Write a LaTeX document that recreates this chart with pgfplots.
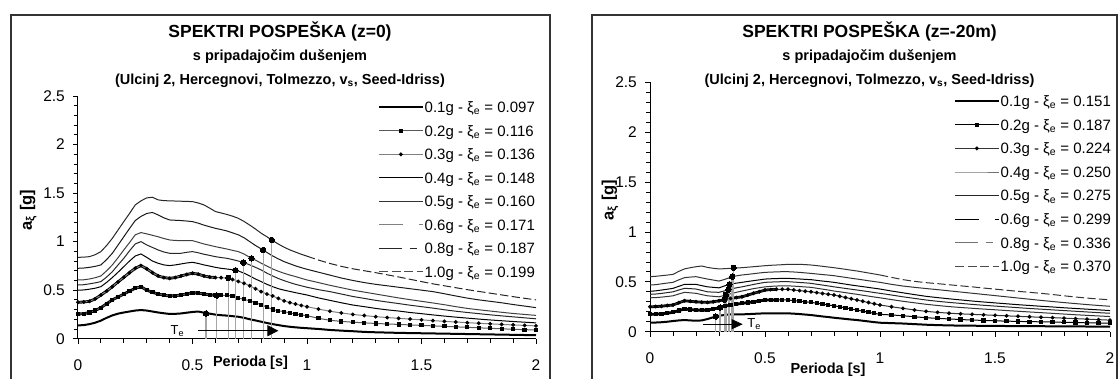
\documentclass[border=0pt]{standalone}
\usepackage{fontspec}
\setmainfont{Liberation Sans}
\usepackage{pgfplots}
\pgfplotsset{compat=1.18}
\usepackage{pgfplotstable}
\usetikzlibrary{arrows.meta}

% Spectral accelerations a_xi [g] vs. period T [s], surface (z=0)
\pgfplotstableread{
T     a01   a02   a03   a04   a05   a06   a08   a10
0     0.137 0.254 0.375 0.500 0.553 0.605 0.725 0.838
0.025 0.140 0.258 0.378 0.502 0.556 0.607 0.728 0.840
0.05  0.150 0.270 0.385 0.510 0.565 0.615 0.735 0.845
0.075 0.165 0.290 0.410 0.520 0.575 0.628 0.745 0.865
0.1   0.186 0.320 0.450 0.536 0.588 0.646 0.760 0.897
0.125 0.215 0.360 0.490 0.580 0.635 0.700 0.815 0.960
0.15  0.240 0.400 0.536 0.630 0.690 0.760 0.880 1.034
0.175 0.258 0.430 0.585 0.685 0.760 0.835 0.965 1.120
0.2   0.270 0.460 0.632 0.742 0.828 0.914 1.050 1.206
0.225 0.280 0.490 0.680 0.800 0.905 0.990 1.135 1.290
0.25  0.290 0.520 0.725 0.852 0.976 1.070 1.217 1.378
0.275 0.295 0.535 0.753 0.873 1.000 1.093 1.260 1.420
0.3   0.290 0.500 0.720 0.838 0.966 1.080 1.290 1.450
0.325 0.280 0.478 0.680 0.800 0.940 1.065 1.300 1.457
0.35  0.270 0.460 0.646 0.777 0.914 1.050 1.275 1.430
0.375 0.262 0.448 0.630 0.760 0.893 1.032 1.245 1.422
0.4   0.255 0.440 0.622 0.753 0.880 1.017 1.223 1.420
0.425 0.256 0.443 0.630 0.760 0.878 1.012 1.220 1.418
0.45  0.260 0.450 0.646 0.770 0.880 1.010 1.217 1.416
0.475 0.268 0.462 0.662 0.780 0.890 1.010 1.212 1.414
0.5   0.275 0.474 0.674 0.787 0.897 1.010 1.206 1.412
0.525 0.280 0.470 0.665 0.775 0.885 0.993 1.190 1.398
0.55  0.268 0.460 0.646 0.760 0.870 0.976 1.170 1.378
0.575 0.258 0.452 0.635 0.748 0.858 0.962 1.153 1.345
0.6   0.248 0.447 0.630 0.735 0.845 0.948 1.137 1.310
0.625 0.242 0.447 0.628 0.725 0.836 0.936 1.124 1.295
0.65  0.238 0.447 0.625 0.718 0.828 0.924 1.110 1.280
0.675 0.232 0.440 0.610 0.710 0.815 0.910 1.090 1.262
0.7   0.226 0.420 0.590 0.698 0.800 0.897 1.070 1.240
0.725 0.215 0.405 0.570 0.675 0.784 0.872 1.040 1.208
0.75  0.200 0.390 0.546 0.646 0.760 0.838 1.000 1.170
0.775 0.188 0.370 0.515 0.615 0.735 0.810 0.960 1.130
0.8   0.175 0.350 0.485 0.588 0.708 0.777 0.925 1.086
0.825 0.162 0.325 0.460 0.560 0.675 0.748 0.888 1.050
0.85  0.150 0.300 0.440 0.536 0.646 0.718 0.852 1.010
0.875 0.140 0.288 0.415 0.515 0.620 0.695 0.822 0.975
0.9   0.130 0.278 0.390 0.500 0.598 0.674 0.794 0.942
0.925 0.123 0.265 0.372 0.487 0.578 0.656 0.772 0.915
0.95  0.117 0.254 0.357 0.474 0.560 0.640 0.750 0.892
0.975 0.112 0.245 0.343 0.462 0.545 0.622 0.732 0.870
1.0   0.108 0.237 0.330 0.450 0.530 0.605 0.715 0.850
1.05  0.100 0.210 0.305 0.420 0.505 0.578 0.685 0.810
1.1   0.090 0.190 0.283 0.395 0.485 0.550 0.655 0.775
1.15  0.083 0.178 0.265 0.370 0.460 0.525 0.625 0.745
1.2   0.077 0.170 0.250 0.347 0.435 0.500 0.600 0.720
1.25  0.070 0.163 0.238 0.330 0.415 0.480 0.578 0.700
1.3   0.066 0.157 0.227 0.312 0.395 0.460 0.560 0.680
1.35  0.063 0.152 0.218 0.297 0.378 0.440 0.545 0.658
1.4   0.060 0.147 0.210 0.285 0.362 0.420 0.530 0.636
1.45  0.058 0.142 0.202 0.270 0.345 0.402 0.515 0.612
1.5   0.056 0.137 0.194 0.258 0.330 0.385 0.500 0.588
1.55  0.054 0.132 0.186 0.245 0.315 0.368 0.485 0.565
1.6   0.052 0.127 0.179 0.233 0.298 0.350 0.463 0.545
1.65  0.050 0.122 0.172 0.222 0.283 0.330 0.440 0.525
1.7   0.048 0.117 0.165 0.212 0.270 0.312 0.418 0.505
1.75  0.046 0.112 0.159 0.202 0.258 0.298 0.400 0.487
1.8   0.044 0.107 0.153 0.193 0.246 0.285 0.385 0.469
1.85  0.042 0.102 0.147 0.185 0.235 0.272 0.370 0.451
1.9   0.040 0.097 0.142 0.177 0.225 0.260 0.352 0.433
1.95  0.038 0.093 0.137 0.170 0.215 0.250 0.336 0.416
2.0   0.036 0.090 0.132 0.163 0.205 0.240 0.320 0.400
}\spektarA

% Spectral accelerations at depth z=-20m
\pgfplotstableread{
T     a01   a02   a03   a04   a05   a06   a08   a10
0     0.090 0.174 0.250 0.340 0.375 0.405 0.468 0.552
0.025 0.092 0.176 0.252 0.342 0.378 0.410 0.472 0.556
0.05  0.095 0.180 0.256 0.347 0.384 0.418 0.480 0.562
0.075 0.100 0.186 0.262 0.353 0.392 0.426 0.488 0.568
0.1   0.107 0.194 0.268 0.360 0.400 0.435 0.495 0.575
0.125 0.113 0.212 0.290 0.378 0.418 0.455 0.520 0.605
0.15  0.117 0.227 0.310 0.395 0.435 0.475 0.542 0.630
0.175 0.113 0.222 0.305 0.390 0.432 0.476 0.548 0.642
0.2   0.110 0.217 0.300 0.385 0.428 0.475 0.552 0.652
0.225 0.113 0.216 0.296 0.372 0.414 0.462 0.540 0.659
0.25  0.127 0.217 0.294 0.360 0.400 0.450 0.528 0.645
0.275 0.145 0.227 0.300 0.355 0.397 0.445 0.518 0.636
0.3   0.160 0.240 0.310 0.350 0.395 0.440 0.508 0.630
0.325 0.168 0.255 0.322 0.365 0.410 0.460 0.525 0.632
0.35  0.174 0.268 0.334 0.380 0.428 0.478 0.545 0.636
0.375 0.175 0.276 0.342 0.395 0.440 0.487 0.560 0.640
0.4   0.174 0.284 0.350 0.408 0.450 0.495 0.569 0.642
0.425 0.176 0.292 0.367 0.420 0.462 0.504 0.575 0.647
0.45  0.179 0.300 0.385 0.432 0.474 0.512 0.582 0.652
0.475 0.182 0.309 0.400 0.441 0.485 0.520 0.589 0.657
0.5   0.184 0.318 0.418 0.450 0.495 0.528 0.595 0.662
0.525 0.185 0.319 0.422 0.455 0.498 0.531 0.598 0.666
0.55  0.185 0.318 0.425 0.458 0.500 0.533 0.600 0.669
0.575 0.184 0.318 0.425 0.460 0.502 0.535 0.602 0.672
0.6   0.184 0.318 0.425 0.460 0.502 0.535 0.602 0.676
0.625 0.181 0.312 0.418 0.457 0.498 0.532 0.599 0.676
0.65  0.177 0.306 0.412 0.453 0.494 0.529 0.595 0.676
0.675 0.172 0.300 0.406 0.449 0.490 0.525 0.590 0.673
0.7   0.167 0.294 0.400 0.445 0.485 0.522 0.585 0.669
0.725 0.160 0.286 0.392 0.436 0.476 0.515 0.579 0.663
0.75  0.153 0.277 0.384 0.427 0.468 0.508 0.573 0.656
0.775 0.147 0.268 0.376 0.418 0.459 0.502 0.568 0.649
0.8   0.140 0.260 0.368 0.408 0.450 0.495 0.562 0.642
0.825 0.134 0.250 0.356 0.400 0.442 0.486 0.553 0.634
0.85  0.128 0.239 0.343 0.392 0.434 0.477 0.545 0.626
0.875 0.122 0.228 0.330 0.383 0.426 0.468 0.536 0.617
0.9   0.117 0.217 0.318 0.375 0.418 0.460 0.528 0.609
0.925 0.110 0.206 0.305 0.366 0.410 0.452 0.520 0.599
0.95  0.103 0.195 0.292 0.357 0.402 0.444 0.511 0.589
0.975 0.096 0.184 0.280 0.348 0.393 0.436 0.503 0.579
1.0   0.090 0.174 0.268 0.340 0.385 0.428 0.495 0.569
1.05  0.086 0.168 0.250 0.322 0.368 0.408 0.475 0.545
1.1   0.082 0.160 0.234 0.305 0.350 0.390 0.458 0.522
1.15  0.076 0.150 0.218 0.290 0.334 0.372 0.445 0.505
1.2   0.070 0.140 0.204 0.275 0.318 0.355 0.433 0.492
1.25  0.066 0.134 0.194 0.263 0.305 0.342 0.422 0.482
1.3   0.063 0.128 0.186 0.252 0.294 0.330 0.410 0.471
1.35  0.061 0.122 0.179 0.243 0.284 0.319 0.398 0.460
1.4   0.060 0.117 0.174 0.235 0.274 0.308 0.386 0.450
1.45  0.059 0.113 0.169 0.227 0.265 0.298 0.374 0.438
1.5   0.058 0.109 0.164 0.220 0.257 0.289 0.362 0.427
1.55  0.057 0.106 0.159 0.212 0.249 0.280 0.350 0.416
1.6   0.056 0.103 0.154 0.205 0.241 0.271 0.338 0.405
1.65  0.056 0.101 0.149 0.198 0.233 0.263 0.326 0.395
1.7   0.055 0.099 0.145 0.191 0.226 0.255 0.314 0.385
1.75  0.054 0.097 0.141 0.184 0.219 0.248 0.303 0.373
1.8   0.054 0.094 0.136 0.177 0.212 0.240 0.292 0.360
1.85  0.053 0.092 0.131 0.170 0.205 0.233 0.282 0.348
1.9   0.052 0.089 0.126 0.164 0.198 0.226 0.272 0.337
1.95  0.051 0.087 0.121 0.158 0.191 0.219 0.263 0.328
2.0   0.050 0.085 0.116 0.152 0.185 0.212 0.255 0.320
}\spektarB

% Equivalent periods T_e with the spectral value there
\pgfplotstableread{
T     a
0.559 0.261
0.606 0.445
0.656 0.627
0.688 0.705
0.722 0.784
0.758 0.828
0.809 0.914
0.846 1.017
}\teA
\pgfplotstableread{
T     a
0.286 0.152
0.305 0.243
0.323 0.322
0.330 0.370
0.341 0.422
0.346 0.476
0.357 0.552
0.364 0.641
}\teB

\newcommand{\legfont}{\fontsize{15}{18}\selectfont}

\pgfplotsset{
  spektar/.style={
    scale only axis,
    xmin=0, xmax=2, ymin=0, ymax=2.5,
    axis x line=bottom, axis y line=left,
    axis line style={-, black, line width=1pt},
    xtick={0,0.5,1,1.5,2}, ytick={0,0.5,1,1.5,2,2.5},
    minor x tick num=4, minor y tick num=4,
    tick align=outside,
    major tick length=5pt, minor tick length=4pt,
    every tick/.style={black, line width=0.8pt},
    tick label style={font=\fontsize{15.5}{15.5}\selectfont, inner sep=0pt},
    xticklabel style={anchor=base, yshift=-27pt},
    yticklabel style={anchor=east, xshift=-8pt},
    /pgf/number format/assume math mode=true,
    xlabel style={font=\bfseries\fontsize{14.5}{16}\selectfont, anchor=center},
    ylabel style={font=\bfseries\fontsize{16.5}{18}\selectfont, anchor=center},
    legend cell align=left,
    legend style={draw=none, fill=none, inner sep=0pt, outer sep=0pt,
      column sep=1pt, font=\legfont,
      nodes={inner sep=0pt, text height=11pt, text depth=3pt, font=\legfont}},
    legend image code/.code={%
      \draw[mark repeat=2, mark phase=2, #1]
        plot coordinates {(0pt,1.35pt) (21.85pt,1.35pt) (43.7pt,1.35pt)};},
  },
  band/.style={black, line width=2.8pt, forget plot},
  tenode/.style={ycomb, draw=black!35, line width=1.4pt, mark=*, mark size=2.7pt,
    mark options={draw=black, fill=black, line width=0pt}, forget plot},
  sq/.style={mark=square*, mark size=1.6pt, mark options={black, fill=black, solid}},
  dt/.style={mark=*, mark size=1.4pt, mark options={black, fill=black, solid}},
}

\newcommand{\xie}{ξ\textsubscript{e}}

\begin{document}
\begin{tikzpicture}
\path[use as bounding box] (0pt,0pt) rectangle (1119pt,379pt);

% chart frames
\draw[line width=2pt, black!80] (10.5pt,-5pt) -- (10.5pt,364pt) -- (550pt,364pt) -- (550pt,-5pt);
\draw[line width=2pt, black!80] (592pt,-5pt) -- (592pt,364pt) -- (1116.5pt,364pt) -- (1116.5pt,-5pt);

% titles
\begin{scope}[every node/.style={anchor=base}]
\node[font=\bfseries\fontsize{17.5}{20}\selectfont] at (280pt,341pt) {SPEKTRI POSPEŠKA (z=0)};
\node[font=\bfseries\fontsize{14.5}{17}\selectfont] at (280pt,318pt) {s pripadajočim dušenjem};
\node[font=\bfseries\fontsize{14.5}{17}\selectfont] at (280pt,294.5pt) {(Ulcinj 2, Hercegnovi, Tolmezzo, v\textsubscript{s}, Seed-Idriss)};
\node[font=\bfseries\fontsize{17.5}{20}\selectfont] at (869.5pt,341pt) {SPEKTRI POSPEŠKA (z=-20m)};
\node[font=\bfseries\fontsize{14.5}{17}\selectfont] at (869.5pt,318pt) {s pripadajočim dušenjem};
\node[font=\bfseries\fontsize{14.5}{17}\selectfont] at (869.5pt,294.5pt) {(Ulcinj 2, Hercegnovi, Tolmezzo, v\textsubscript{s}, Seed-Idriss)};
\end{scope}

% ---------- z = 0 ----------
\begin{axis}[spektar, width=458pt, height=242.7pt, at={(78pt,40.3pt)}, anchor=south west,
  xlabel={Perioda [s]}, ylabel={a\textsubscript{ξ} [g]},
  xlabel style={at={(axis description cs:0.3766,-0.1001)}},
  ylabel style={at={(axis description cs:-0.1085,0.530)}},
  legend style={at={(axis description cs:0.655,0.9767)}, anchor=north west, row sep=9.5pt}]
\addlegendimage{black, line width=2pt}
\addlegendentry{0.1g - \xie{} = 0.097}
\addlegendimage{black!65, line width=1pt, sq}
\addlegendentry{0.2g - \xie{} = 0.116}
\addlegendimage{black!50, line width=1pt, dt}
\addlegendentry{0.3g - \xie{} = 0.136}
\addlegendimage{black, line width=1pt}
\addlegendentry{0.4g - \xie{} = 0.148}
\addlegendimage{black!80, line width=1pt}
\addlegendentry{0.5g - \xie{} = 0.160}
\addlegendimage{black!50, line width=1pt, dash pattern=on 24pt off 16.4pt on 3.3pt off 20pt}
\addlegendentry{0.6g - \xie{} = 0.171}
\addlegendimage{black!85, line width=1pt, dash pattern=on 23.3pt off 7.7pt on 6.7pt off 20pt}
\addlegendentry{0.8g - \xie{} = 0.187}
\addlegendimage{black!70, line width=1pt, dash pattern=on 9pt off 3.6pt}
\addlegendentry{1.0g - \xie{} = 0.199}

\addplot[black, line width=2pt, forget plot] table[x=T, y=a01] {\spektarA};
\addplot[band, restrict x to domain=0:0.601] table[x=T, y=a02] {\spektarA};
\addplot[black!65, line width=1pt, sq, forget plot] table[x=T, y=a02] {\spektarA};
\addplot[band, restrict x to domain=0:0.601] table[x=T, y=a03] {\spektarA};
\addplot[black!50, line width=1pt, dt, forget plot] table[x=T, y=a03] {\spektarA};
\addplot[black, line width=1pt, forget plot] table[x=T, y=a04] {\spektarA};
\addplot[black!85, line width=1pt, forget plot] table[x=T, y=a05] {\spektarA};
\addplot[black!75, line width=1pt, forget plot] table[x=T, y=a06] {\spektarA};
\addplot[black!90, line width=1pt, forget plot] table[x=T, y=a08] {\spektarA};
\addplot[black!85, line width=1pt, forget plot, restrict x to domain=0:1.001] table[x=T, y=a10] {\spektarA};
\addplot[black!85, line width=1pt, forget plot, restrict x to domain=0.999:2, dash pattern=on 8.3pt off 3.3pt] table[x=T, y=a10] {\spektarA};

\addplot[tenode] table[x=T, y=a] {\teA};
\draw[black, line width=0.8pt, -{Triangle[length=11pt, width=11pt]}] (axis cs:0.525,0.082) -- (axis cs:0.875,0.082);
\node[font=\fontsize{13}{13}\selectfont] at (axis cs:0.434,0.078) {T\textsubscript{e}};
\end{axis}

% ---------- z = -20 m ----------
\begin{axis}[spektar, width=460pt, height=249.2pt, at={(650pt,47.3pt)}, anchor=south west,
  xlabel={Perioda [s]}, ylabel={a\textsubscript{ξ} [g]},
  xlabel style={at={(axis description cs:0.387,-0.1537)}},
  ylabel style={at={(axis description cs:-0.087,0.5285)}},
  legend style={at={(axis description cs:0.6609,0.9476)}, anchor=north west, row sep=9.6pt}]
\addlegendimage{black, line width=2pt}
\addlegendentry{0.1g - \xie{} = 0.151}
\addlegendimage{black, line width=1pt, sq}
\addlegendentry{0.2g - \xie{} = 0.187}
\addlegendimage{black!80, line width=1pt, dt}
\addlegendentry{0.3g - \xie{} = 0.224}
\addlegendimage{black!55, line width=1pt}
\addlegendentry{0.4g - \xie{} = 0.250}
\addlegendimage{black!85, line width=1pt}
\addlegendentry{0.5g - \xie{} = 0.275}
\addlegendimage{black, line width=1pt, dash pattern=on 24pt off 16.4pt on 3.3pt off 20pt}
\addlegendentry{0.6g - \xie{} = 0.299}
\addlegendimage{black!55, line width=1pt, dash pattern=on 23.3pt off 7.7pt on 6.7pt off 20pt}
\addlegendentry{0.8g - \xie{} = 0.336}
\addlegendimage{black!70, line width=1pt, dash pattern=on 9pt off 3.6pt}
\addlegendentry{1.0g - \xie{} = 0.370}

\addplot[black, line width=2pt, forget plot] table[x=T, y=a01] {\spektarB};
\addplot[band, restrict x to domain=0:0.551] table[x=T, y=a02] {\spektarB};
\addplot[black, line width=1pt, sq, forget plot] table[x=T, y=a02] {\spektarB};
\addplot[band, restrict x to domain=0:0.551] table[x=T, y=a03] {\spektarB};
\addplot[black!80, line width=1pt, dt, forget plot] table[x=T, y=a03] {\spektarB};
\addplot[black!80, line width=1pt, forget plot] table[x=T, y=a04] {\spektarB};
\addplot[black!85, line width=1pt, forget plot] table[x=T, y=a05] {\spektarB};
\addplot[black, line width=1pt, forget plot] table[x=T, y=a06] {\spektarB};
\addplot[black!80, line width=1pt, forget plot] table[x=T, y=a08] {\spektarB};
\addplot[black!80, line width=1pt, forget plot, restrict x to domain=0:1.001] table[x=T, y=a10] {\spektarB};
\addplot[black!80, line width=1pt, forget plot, restrict x to domain=0.999:2, dash pattern=on 8.3pt off 3.3pt] table[x=T, y=a10] {\spektarB};

\addplot[tenode] table[x=T, y=a] {\teB};
\draw[black, line width=0.8pt, -{Triangle[length=11pt, width=10pt]}] (axis cs:0.232,0.075) -- (axis cs:0.403,0.075);
\node[font=\fontsize{13}{13}\selectfont, anchor=west] at (axis cs:0.408,0.078) {T\textsubscript{e}};
\end{axis}
\end{tikzpicture}
\end{document}
